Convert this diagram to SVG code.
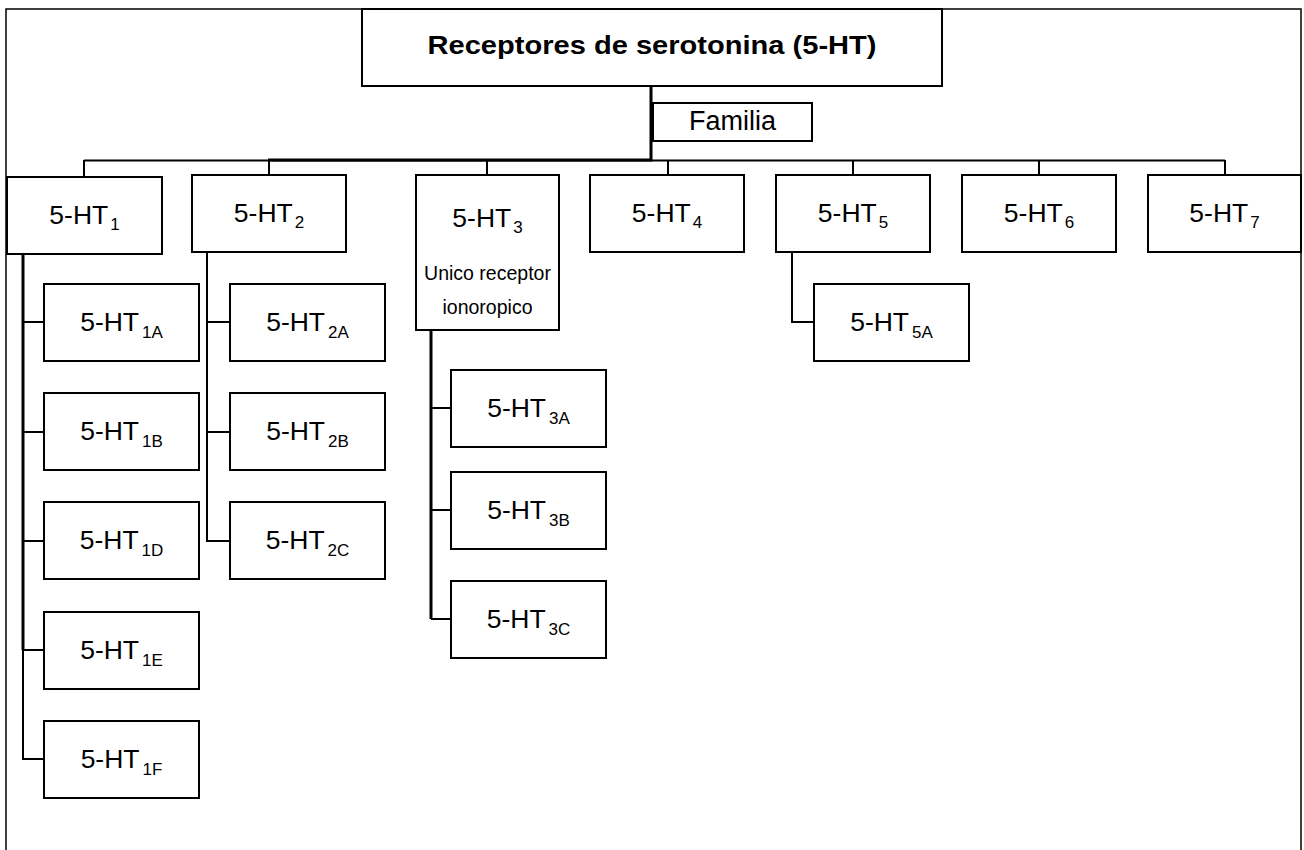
<svg xmlns="http://www.w3.org/2000/svg" width="1304" height="850" viewBox="0 0 1304 850">
<style>
.box{fill:#fff;stroke:#000;stroke-width:2}
.lbl{font-family:"Liberation Sans",Arial,sans-serif;font-size:26.5px;text-anchor:middle;fill:#000}
.sub{font-size:17px}
.small{font-size:19.5px}
.title{font-weight:bold}
.con{fill:none;stroke:#000;stroke-width:2}
.thick{stroke-width:3}
.frame{fill:none;stroke:#000;stroke-width:1.5}
</style>
<rect width="1304" height="850" fill="#fff"/>
<path class="frame" d="M6,850 V9 H1301 V850"/>
<g id="connectors">
<path class="con" d="M84,160.5 H1225"/>
<path class="con thick" d="M651,86 V160 H268"/>
<path class="con" d="M84,160 V177 M269,160 V175 M487,160 V175 M668,160 V175 M853,160 V175 M1039,160 V175 M1225,160 V175"/>
<path class="con thick" d="M23,254 V650"/>
<path class="con" d="M23,650 V759 H44 M23,322 H44 M23,432 H44 M23,541 H44 M23,650 H44"/>
<path class="con" d="M207,252 V541 H230 M207,322 H230 M207,432 H230"/>
<path class="con thick" d="M431,330 V619"/>
<path class="con" d="M431,619 H451 M431,408 H451 M431,510 H451"/>
<path class="con" d="M792,252 V322 H814"/>
</g>
<g id="n-root"><rect class="box" x="362" y="9" width="580" height="77"/><text class="lbl title" x="652" y="54" textLength="449" lengthAdjust="spacingAndGlyphs">Receptores de serotonina (5-HT)</text></g>
<g id="n-familia"><rect class="box" x="653" y="103" width="159" height="38"/><text class="lbl" x="732.5" y="130" style="font-size:27px">Familia</text></g>
<g id="n-1"><rect class="box" x="7" y="177" width="155" height="77"/><text class="lbl" x="84.5" y="224">5-HT<tspan class="sub" dx="2" dy="6">1</tspan></text></g>
<g id="n-2"><rect class="box" x="192" y="175" width="154" height="77"/><text class="lbl" x="269" y="222">5-HT<tspan class="sub" dx="2" dy="6">2</tspan></text></g>
<g id="n-3"><rect class="box" x="416" y="175" width="143" height="155"/><text class="lbl" x="487.5" y="227">5-HT<tspan class="sub" dx="2" dy="6">3</tspan></text><text class="lbl small" x="487.5" y="280">Unico receptor</text><text class="lbl small" x="487.5" y="314">ionoropico</text></g>
<g id="n-4"><rect class="box" x="590" y="175" width="154" height="77"/><text class="lbl" x="667" y="222">5-HT<tspan class="sub" dx="2" dy="6">4</tspan></text></g>
<g id="n-5"><rect class="box" x="776" y="175" width="154" height="77"/><text class="lbl" x="853" y="222">5-HT<tspan class="sub" dx="2" dy="6">5</tspan></text></g>
<g id="n-6"><rect class="box" x="962" y="175" width="154" height="77"/><text class="lbl" x="1039" y="222">5-HT<tspan class="sub" dx="2" dy="6">6</tspan></text></g>
<g id="n-7"><rect class="box" x="1148" y="175" width="153" height="77"/><text class="lbl" x="1224.5" y="222">5-HT<tspan class="sub" dx="2" dy="6">7</tspan></text></g>
<g id="n-1A"><rect class="box" x="44" y="284" width="155" height="77"/><text class="lbl" x="121.5" y="331">5-HT<tspan class="sub" dx="3" dy="7">1A</tspan></text></g>
<g id="n-1B"><rect class="box" x="44" y="393" width="155" height="77"/><text class="lbl" x="121.5" y="440">5-HT<tspan class="sub" dx="3" dy="7">1B</tspan></text></g>
<g id="n-1D"><rect class="box" x="44" y="502" width="155" height="77"/><text class="lbl" x="121.5" y="549">5-HT<tspan class="sub" dx="3" dy="7">1D</tspan></text></g>
<g id="n-1E"><rect class="box" x="44" y="612" width="155" height="77"/><text class="lbl" x="121.5" y="659">5-HT<tspan class="sub" dx="3" dy="7">1E</tspan></text></g>
<g id="n-1F"><rect class="box" x="44" y="721" width="155" height="77"/><text class="lbl" x="121.5" y="768">5-HT<tspan class="sub" dx="3" dy="7">1F</tspan></text></g>
<g id="n-2A"><rect class="box" x="230" y="284" width="155" height="77"/><text class="lbl" x="307.5" y="331">5-HT<tspan class="sub" dx="3" dy="7">2A</tspan></text></g>
<g id="n-2B"><rect class="box" x="230" y="393" width="155" height="77"/><text class="lbl" x="307.5" y="440">5-HT<tspan class="sub" dx="3" dy="7">2B</tspan></text></g>
<g id="n-2C"><rect class="box" x="230" y="502" width="155" height="77"/><text class="lbl" x="307.5" y="549">5-HT<tspan class="sub" dx="3" dy="7">2C</tspan></text></g>
<g id="n-3A"><rect class="box" x="451" y="370" width="155" height="77"/><text class="lbl" x="528.5" y="417">5-HT<tspan class="sub" dx="3" dy="7">3A</tspan></text></g>
<g id="n-3B"><rect class="box" x="451" y="472" width="155" height="77"/><text class="lbl" x="528.5" y="519">5-HT<tspan class="sub" dx="3" dy="7">3B</tspan></text></g>
<g id="n-3C"><rect class="box" x="451" y="581" width="155" height="77"/><text class="lbl" x="528.5" y="628">5-HT<tspan class="sub" dx="3" dy="7">3C</tspan></text></g>
<g id="n-5A"><rect class="box" x="814" y="284" width="155" height="77"/><text class="lbl" x="891.5" y="331">5-HT<tspan class="sub" dx="3" dy="7">5A</tspan></text></g>
</svg>
